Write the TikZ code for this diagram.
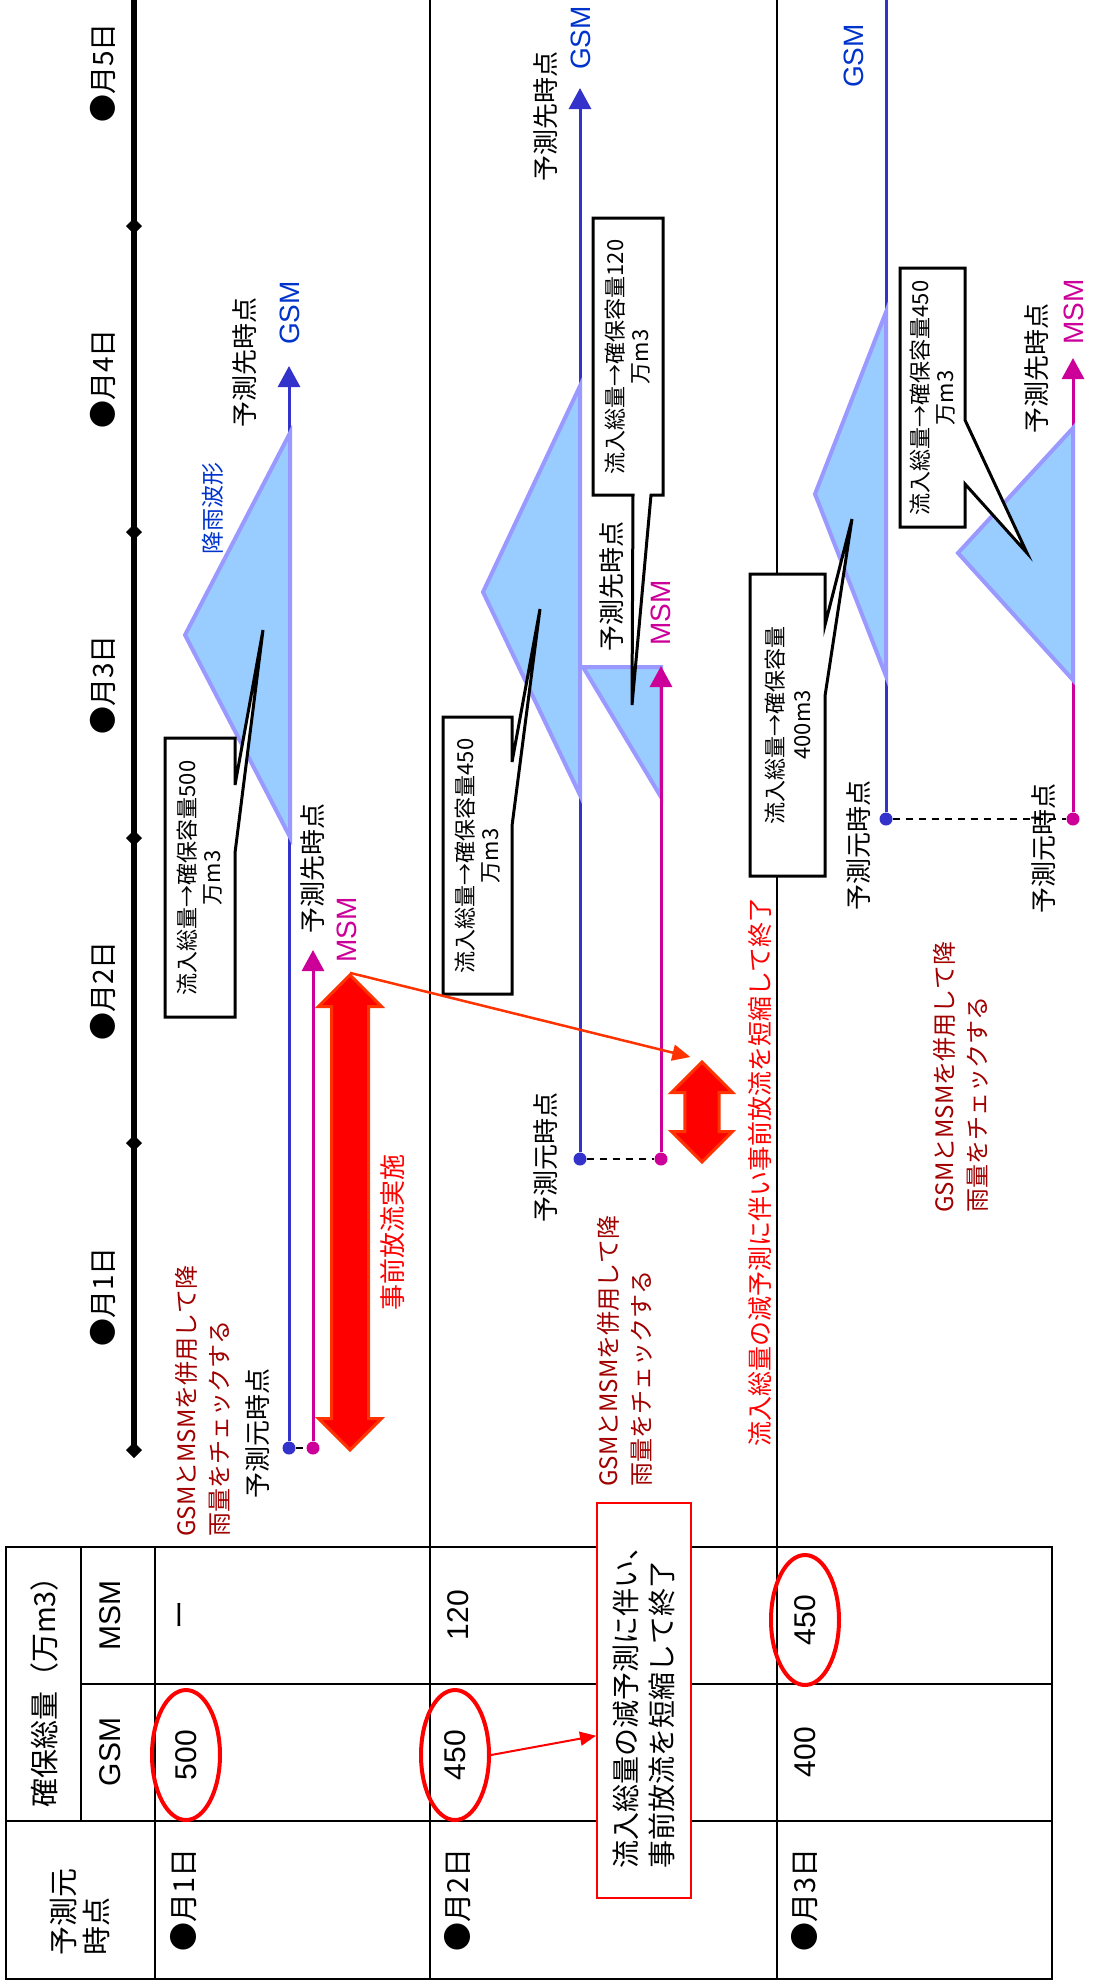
\documentclass[tikz,border=0pt]{standalone}
\usepackage{fontspec}
\setmainfont{Noto Sans CJK JP}
\newfontfamily\latinsans{Liberation Sans}
\usetikzlibrary{arrows.meta, shapes.geometric, shapes.arrows, calc}

\definecolor{gsmline}{RGB}{51,51,204}
\definecolor{gsmtext}{RGB}{0,51,204}
\definecolor{msmline}{RGB}{204,0,153}
\definecolor{rainfill}{RGB}{153,204,255}
\definecolor{rainedge}{RGB}{153,153,255}
\definecolor{darkred}{RGB}{160,0,0}
\definecolor{arrowedge}{RGB}{255,51,0}

\tikzset{
    vtext/.style={rotate=90, inner sep=0pt, font=\fontsize{26}{30}\selectfont},
    bigname/.style={font=\latinsans\fontsize{28}{30}\selectfont},
    tabletext/.style={vtext, font=\fontsize{29}{33}\selectfont},
    tablelatin/.style={vtext, font=\latinsans\fontsize{30}{33}\selectfont},
    checktext/.style={vtext, darkred, align=left, anchor=west, font=\fontsize{24}{33}\selectfont},
    calltext/.style={vtext, align=center, font=\fontsize{22}{25}\selectfont},
    callbox/.style={draw=black, fill=white, line width=3pt},
    rain/.style={fill=rainfill, draw=rainedge, line width=4pt},
    gsm/.style={gsmline, line width=3pt},
    msm/.style={msmline, line width=3pt},
    fcsttip/.style={-{Triangle[width=22pt,length=21pt]}},
    srcdot/.style={circle, inner sep=0pt, minimum size=13pt},
    linkdash/.style={dash pattern=on 7pt off 6pt, line width=2pt},
    ringed/.style={ellipse, draw=red, line width=4pt, rotate=90, inner sep=0pt,
        minimum width=130pt, minimum height=68pt, font=\latinsans\fontsize{30}{33}\selectfont},
    twinarrow/.style={double arrow, rotate=90, fill=red, draw=arrowedge, line width=3pt,
        inner xsep=0pt, double arrow head extend=13pt}
}

\begin{document}
\begin{tikzpicture}[x=1pt, y=-1pt]
	\useasboundingbox (0,0) rectangle (1093,1982);
	
	% time axis
	\draw[line width=6pt] (134,0) -- (134,1450);
	\foreach \t in {226,532,838,1143,1450}
	    \fill (126,\t) -- (134,\t-8) -- (142,\t) -- (134,\t+8) -- cycle;
	\foreach \d in {1,...,5}
	    \node[vtext, font=\fontsize{28}{30}\selectfont] (day\d) at (103,{1297-306*(\d-1)}) {●月\d{}日};
	
	\draw[line width=2pt] (430,0) -- (430,1547) (777,0) -- (777,1547);
	
	% table
	\draw[line width=2.5pt] (6,1547) rectangle (1052,1979);
	\draw[line width=2.5pt]
	    (155,1547) -- (155,1979)
	    (430,1547) -- (430,1979)
	    (777,1547) -- (777,1979)
	    (81,1547) -- (81,1821)
	    (6,1821) -- (1052,1821)
	    (81,1684) -- (1052,1684);
	
	\node[tabletext, align=left] (hdsource) at (80,1912) {予測元\\時点};
	\node[tabletext] (hdtotal) at (44,1685) {確保総量（万m3）};
	\node[tablelatin] (hdgsm) at (110,1752) {GSM};
	\node[tablelatin] (hdmsm) at (110,1615) {MSM};
	
	\node[tabletext] (day1row) at (184,1900) {●月1日};
	\node[ringed] (g500) at (186,1755) {500};
	\node[tabletext] (m1row) at (184,1615) {ー};
	
	\node[tabletext] (day2row) at (458,1900) {●月2日};
	\node[ringed] (g450) at (455,1755) {450};
	\node[tablelatin] (m2row) at (458,1615) {120};
	
	\node[tabletext] (day3row) at (805,1900) {●月3日};
	\node[tablelatin] (g3row) at (805,1752) {400};
	\node[ringed] (m450) at (805,1620) {450};
	
	\node[tabletext, draw=red, fill=white, line width=2pt, align=left, font=\fontsize{28}{36}\selectfont,
	    minimum width=395pt, minimum height=94pt] (shortbox) at (644,1700)
	    {流入総量の減予測に伴い、\\事前放流を短縮して終了};
	\draw[red, line width=2pt, -{Triangle[width=14pt,length=16pt]}]
	    (g450.south) -- ($(shortbox.north)!0.18!(shortbox.north west)$);
	
	% day 1 forecast
	\node[srcdot, fill=gsmline] (gsm1) at (289,1448) {};
	\node[srcdot, fill=msmline] (msm1) at (313,1448) {};
	\coordinate (gsm1end) at (289,366);
	\coordinate (msm1end) at (313,950);
	\draw[gsm, fcsttip] (gsm1) -- (gsm1end);
	\draw[msm, fcsttip] (msm1) -- (msm1end);
	\draw[linkdash] (gsm1) -- (msm1);
	\draw[rain] (290,433) -- (185,635) -- (290,837) -- cycle;
	
	\node[vtext] (gsm1to) at (245,362) {予測先時点};
	\node[vtext, gsmtext, bigname] (gsm1name) at (290,313) {GSM};
	\node[vtext, gsmtext, font=\fontsize{23}{26}\selectfont] (rain1) at (213,508) {降雨波形};
	\node[vtext] (msm1to) at (313,868) {予測先時点};
	\node[vtext, msmline, bigname] (msm1name) at (347,930) {MSM};
	\node[vtext] (src1) at (258,1433) {予測元時点};
	
	\draw[callbox] (165,738) -- (235,738) -- (235,785) -- (263,630) -- (235,853) -- (235,1017) -- (165,1017) -- cycle;
	\node[calltext] (note1) at (200,878) {流入総量→確保容量500\\万m3};
	
	\node[twinarrow, inner ysep=17pt, minimum height=475pt, minimum width=60pt] (predis) at (350,1212.5) {};
	\node[vtext, red] (predistext) at (393,1232) {事前放流実施};
	\node[checktext] (check1) at (203,1537) {GSMとMSMを併用して降\\雨量をチェックする};
	
	% day 2 forecast
	\node[srcdot, fill=gsmline] (gsm2) at (580,1159) {};
	\node[srcdot, fill=msmline] (msm2) at (661,1159) {};
	\coordinate (gsm2end) at (580,88);
	\coordinate (msm2end) at (661,666);
	\draw[gsm, fcsttip] (gsm2) -- (gsm2end);
	\draw[rain] (580,386) -- (483,592) -- (580,795) -- cycle;
	\draw[rain] (583,667) -- (661,667) -- (661,797) -- cycle;
	\draw[msm, fcsttip] (msm2) -- (msm2end);
	\draw[linkdash] (gsm2) -- (msm2);
	
	\node[vtext] (gsm2to) at (546,116) {予測先時点};
	\node[vtext, gsmtext, bigname] (gsm2name) at (581,38) {GSM};
	\node[vtext] (msm2to) at (612,586) {予測先時点};
	\node[vtext, msmline, bigname] (msm2name) at (661,613) {MSM};
	\node[vtext] (src2) at (546,1157) {予測元時点};
	
	\draw[callbox] (443,717) -- (512,717) -- (512,762) -- (540,609) -- (512,826) -- (512,994) -- (443,994) -- cycle;
	\node[calltext] (note2g) at (478,856) {流入総量→確保容量450\\万m3};
	\draw[callbox] (593,218) -- (663,218) -- (663,495) -- (651,495) -- (632,705) -- (633,495) -- (593,495) -- cycle;
	\node[calltext] (note2m) at (628,357) {流入総量→確保容量120\\万m3};
	
	\node[twinarrow, inner ysep=15pt, minimum height=100pt, minimum width=61pt] (stop) at (702,1112) {};
	\draw[arrowedge, line width=2.5pt, -{Triangle[width=16pt,length=18pt]}, shorten >=12pt]
	    (predis.east) -- (stop.east);
	\node[vtext, red, font=\fontsize{25}{30}\selectfont] (stoptext) at (760,1172) {流入総量の減予測に伴い事前放流を短縮して終了};
	\node[checktext] (check2) at (625,1487) {GSMとMSMを併用して降\\雨量をチェックする};
	
	% day 3 forecast
	\node[srcdot, fill=gsmline] (gsm3) at (886,819) {};
	\node[srcdot, fill=msmline] (msm3) at (1073,819) {};
	\coordinate (gsm3end) at (886,0);
	\coordinate (msm3end) at (1073,358);
	\draw[gsm] (gsm3) -- (gsm3end);
	\draw[msm, fcsttip] (msm3) -- (msm3end);
	\draw[linkdash] (gsm3) -- (msm3);
	\draw[rain] (886,312) -- (815,494) -- (886,676) -- cycle;
	\draw[rain] (1073,428) -- (958,553) -- (1073,680) -- cycle;
	
	\node[vtext, gsmtext, bigname] (gsm3name) at (854,56) {GSM};
	\node[vtext] (msm3to) at (1037,368) {予測先時点};
	\node[vtext, msmline, bigname] (msm3name) at (1074,312) {MSM};
	\node[vtext] (src3g) at (859,845) {予測元時点};
	\node[vtext] (src3m) at (1044,848) {予測元時点};
	
	\draw[callbox] (750,574) -- (825,574) -- (825,625) -- (852,519) -- (825,696) -- (825,876) -- (750,876) -- cycle;
	\node[calltext, font=\fontsize{22}{27}\selectfont] (note3g) at (788,725) {流入総量→確保容量\\400m3};
	\draw[callbox] (900,268) -- (965,268) -- (965,420) -- (1027,553) -- (965,484) -- (965,527) -- (900,527) -- cycle;
	\node[calltext] (note3m) at (933,398) {流入総量→確保容量450\\万m3};
	\node[checktext] (check3) at (961,1213) {GSMとMSMを併用して降\\雨量をチェックする};
	
\end{tikzpicture}
\end{document}
